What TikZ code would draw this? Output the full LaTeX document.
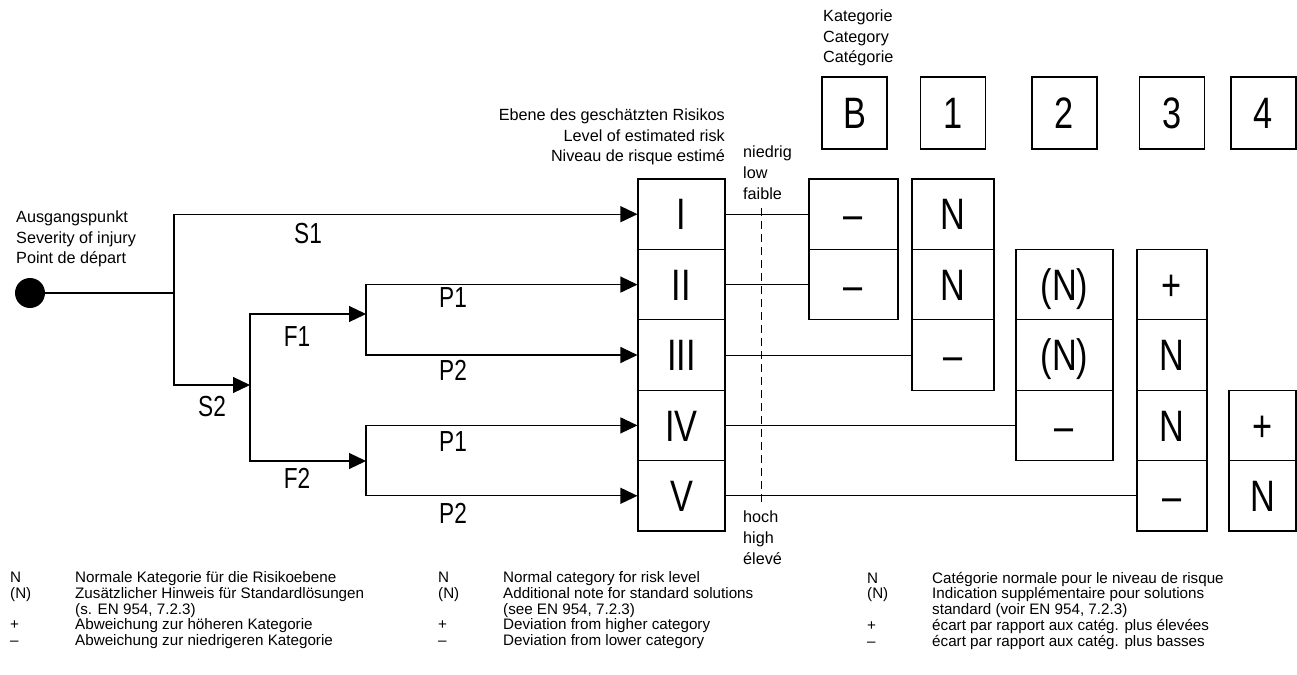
\documentclass[tikz,border=0pt]{standalone}
\usepackage{fontspec}
\setmainfont{Liberation Sans}
\newfontfamily\condfont{Liberation Sans}[FakeStretch=0.78]
\usetikzlibrary{arrows.meta}
\newcommand{\lblfont}{\fontsize{16.2}{20.8}\selectfont}
\newcommand{\keyfont}{\fontsize{15.2}{15.3}\selectfont}
\newcommand{\bigfont}{\condfont\fontsize{44}{44}\selectfont}
\newcommand{\brfont}{\condfont\fontsize{29}{29}\selectfont}
\tikzset{
  lbl/.style={font=\lblfont, inner sep=0pt},
  lvl/.style={draw, line width=1.1pt, minimum width=87pt, minimum height=70.4pt,
    inner sep=0pt, text height=31.5pt, text depth=0pt, font=\bigfont},
  cell/.style={draw, line width=1.1pt, minimum height=70.4pt,
    inner sep=0pt, text height=31.5pt, text depth=0pt, font=\bigfont},
  cat/.style={draw, line width=1.1pt, minimum width=65pt, minimum height=72pt,
    inner sep=0pt, text height=31.5pt, text depth=0pt, font=\bigfont},
  brlbl/.style={font=\brfont, inner sep=0pt},
  flow/.style={line width=1.1pt, -{Triangle[length=17pt,width=16pt]}},
  link/.style={line width=0.8pt},
  key/.style={anchor=north west, inner sep=0pt, font=\keyfont}
}

\begin{document}
\begin{tikzpicture}[x=1pt, y=-1pt]
  \useasboundingbox (0,0) rectangle (1297,674);

  % labels
  \node[lbl, anchor=west, align=left] (start lbl) at (16,239)
    {Ausgangspunkt\\Severity of injury\\Point de départ};
  \node[lbl, anchor=east, align=right] (risk lbl) at (725,137)
    {Ebene des geschätzten Risikos\\Level of estimated risk\\Niveau de risque estimé};
  \node[lbl, anchor=west, align=left] (low lbl) at (743,173) {niedrig\\low\\faible};
  \node[lbl, anchor=west, align=left] (high lbl) at (743,538) {hoch\\high\\élevé};
  \node[lbl, anchor=west, align=left] (cat lbl) at (823,38) {Kategorie\\Category\\Catégorie};

  % levels of risk
  \node[lvl] (lI)   at (681.5,214.2) {I};
  \node[lvl] (lII)  at (681.5,284.6) {II};
  \node[lvl] (lIII) at (681.5,355.0) {III};
  \node[lvl] (lIV)  at (681.5,425.4) {IV};
  \node[lvl] (lV)   at (681.5,495.8) {V};

  % categories
  \node[cat] (cB) at (854.5,113) {B};
  \node[cat] (c1) at (953,113) {1};
  \node[cat] (c2) at (1064.5,113) {2};
  \node[cat] (c3) at (1172,113) {3};
  \node[cat] (c4) at (1263.5,113) {4};

  \node[cell, minimum width=89pt] (bI)  at (853.5,214.2) {–};
  \node[cell, minimum width=89pt] (bII) at (853.5,284.6) {–};

  \node[cell, minimum width=82pt] (oneI)   at (953,214.2) {N};
  \node[cell, minimum width=82pt] (oneII)  at (953,284.6) {N};
  \node[cell, minimum width=82pt] (oneIII) at (953,355.0) {–};

  \node[cell, minimum width=97pt] (twoII)  at (1064.5,284.6) {(N)};
  \node[cell, minimum width=97pt] (twoIII) at (1064.5,355.0) {(N)};
  \node[cell, minimum width=97pt] (twoIV)  at (1064.5,425.4) {–};

  \node[cell, minimum width=70pt] (threeII)  at (1172,284.6) {+};
  \node[cell, minimum width=70pt] (threeIII) at (1172,355.0) {N};
  \node[cell, minimum width=70pt] (threeIV)  at (1172,425.4) {N};
  \node[cell, minimum width=70pt] (threeV)   at (1172,495.8) {–};

  \node[cell, minimum width=67pt] (fourIV) at (1262.5,425.4) {+};
  \node[cell, minimum width=67pt] (fourV)  at (1262.5,495.8) {N};

  % decision tree
  \node[circle, fill, inner sep=0pt, minimum size=30pt] (start) at (30,293) {};
  \coordinate (s)  at (174,293);
  \coordinate (f)  at (250,385);
  \coordinate (pa) at (366,314);
  \coordinate (pb) at (366,461);
  \draw[line width=1.1pt] (start) -- (s);
  \draw[flow] (s) |- (lI);
  \draw[flow] (s) |- (f);
  \draw[flow] (f) |- (pa);
  \draw[flow] (f) |- (pb);
  \draw[flow] (pa) |- (lII);
  \draw[flow] (pa) |- (lIII);
  \draw[flow] (pb) |- (lIV);
  \draw[flow] (pb) |- (lV);

  \node[brlbl] (S1)  at (308,234) {S1};
  \node[brlbl] (S2)  at (212,407) {S2};
  \node[brlbl] (F1)  at (297,337) {F1};
  \node[brlbl] (F2)  at (297,478) {F2};
  \node[brlbl] (P1a) at (453,298) {P1};
  \node[brlbl] (P2a) at (453,370) {P2};
  \node[brlbl] (P1b) at (453,442) {P1};
  \node[brlbl] (P2b) at (453,513) {P2};

  % low -- high
  \coordinate (lo) at (761,208);
  \coordinate (hi) at (761,502);
  \draw[line width=0.8pt, dash pattern=on 8pt off 5pt] (lo) -- (hi);

  \draw[link] (lI) -- (bI);
  \draw[link] (lII) -- (bII);
  \draw[link] (lIII) -- (oneIII);
  \draw[link] (lIV) -- (twoIV);
  \draw[link] (lV) -- (threeV);

  % key
  \node[key] (key de) at (10,571.7) {\begin{tabular}{@{}p{65pt}@{}l@{}}
    N & Normale Kategorie für die Risikoebene\\
    (N) & Zusätzlicher Hinweis für Standardlösungen\\
     & (s. EN 954, 7.2.3)\\
    + & Abweichung zur höheren Kategorie\\
    – & Abweichung zur niedrigeren Kategorie
  \end{tabular}};
  \node[key] (key en) at (438,571.7) {\begin{tabular}{@{}p{65pt}@{}l@{}}
    N & Normal category for risk level\\
    (N) & Additional note for standard solutions\\
     & (see EN 954, 7.2.3)\\
    + & Deviation from higher category\\
    – & Deviation from lower category
  \end{tabular}};
  \node[key] (key fr) at (867,571.7) {\begin{tabular}{@{}p{65pt}@{}l@{}}
    N & Catégorie normale pour le niveau de risque\\
    (N) & Indication supplémentaire pour solutions\\
     & standard (voir EN 954, 7.2.3)\\
    + & écart par rapport aux catég. plus élevées\\
    – & écart par rapport aux catég. plus basses
  \end{tabular}};
\end{tikzpicture}
\end{document}
